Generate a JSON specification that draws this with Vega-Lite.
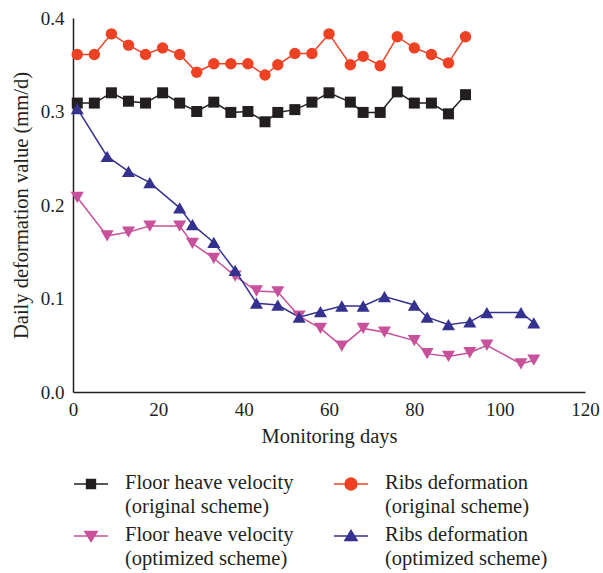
{
  "$schema": "https://vega.github.io/schema/vega-lite/v6.json",
  "width": 512,
  "height": 374,
  "autosize": "none",
  "padding": {"left": 73, "top": 18, "right": 18, "bottom": 181},
  "config": {
    "view": {"stroke": null},
    "font": "Liberation Serif",
    "axis": {
      "grid": false,
      "ticks": false,
      "domainColor": "#231f20",
      "domainWidth": 1.5,
      "labelColor": "#231f20",
      "titleColor": "#231f20",
      "labelFont": "Liberation Serif",
      "titleFont": "Liberation Serif",
      "labelFontSize": 19,
      "titleFontSize": 20.5,
      "titleFontWeight": "normal"
    },
    "legend": {"padding": 0}
  },
  "data": {
    "values": [
      {"series": "Floor heave velocity (original scheme)", "day": 1, "value": 0.309},
      {"series": "Floor heave velocity (original scheme)", "day": 5, "value": 0.309},
      {"series": "Floor heave velocity (original scheme)", "day": 9, "value": 0.320},
      {"series": "Floor heave velocity (original scheme)", "day": 13, "value": 0.311},
      {"series": "Floor heave velocity (original scheme)", "day": 17, "value": 0.309},
      {"series": "Floor heave velocity (original scheme)", "day": 21, "value": 0.320},
      {"series": "Floor heave velocity (original scheme)", "day": 25, "value": 0.309},
      {"series": "Floor heave velocity (original scheme)", "day": 29, "value": 0.300},
      {"series": "Floor heave velocity (original scheme)", "day": 33, "value": 0.310},
      {"series": "Floor heave velocity (original scheme)", "day": 37, "value": 0.299},
      {"series": "Floor heave velocity (original scheme)", "day": 41, "value": 0.300},
      {"series": "Floor heave velocity (original scheme)", "day": 45, "value": 0.289},
      {"series": "Floor heave velocity (original scheme)", "day": 48, "value": 0.299},
      {"series": "Floor heave velocity (original scheme)", "day": 52, "value": 0.302},
      {"series": "Floor heave velocity (original scheme)", "day": 56, "value": 0.310},
      {"series": "Floor heave velocity (original scheme)", "day": 60, "value": 0.320},
      {"series": "Floor heave velocity (original scheme)", "day": 65, "value": 0.310},
      {"series": "Floor heave velocity (original scheme)", "day": 68, "value": 0.299},
      {"series": "Floor heave velocity (original scheme)", "day": 72, "value": 0.299},
      {"series": "Floor heave velocity (original scheme)", "day": 76, "value": 0.321},
      {"series": "Floor heave velocity (original scheme)", "day": 80, "value": 0.309},
      {"series": "Floor heave velocity (original scheme)", "day": 84, "value": 0.309},
      {"series": "Floor heave velocity (original scheme)", "day": 88, "value": 0.2975},
      {"series": "Floor heave velocity (original scheme)", "day": 92, "value": 0.318},
      {"series": "Ribs deformation (original scheme)", "day": 1, "value": 0.361},
      {"series": "Ribs deformation (original scheme)", "day": 5, "value": 0.361},
      {"series": "Ribs deformation (original scheme)", "day": 9, "value": 0.383},
      {"series": "Ribs deformation (original scheme)", "day": 13, "value": 0.371},
      {"series": "Ribs deformation (original scheme)", "day": 17, "value": 0.361},
      {"series": "Ribs deformation (original scheme)", "day": 21, "value": 0.368},
      {"series": "Ribs deformation (original scheme)", "day": 25, "value": 0.361},
      {"series": "Ribs deformation (original scheme)", "day": 29, "value": 0.342},
      {"series": "Ribs deformation (original scheme)", "day": 33, "value": 0.351},
      {"series": "Ribs deformation (original scheme)", "day": 37, "value": 0.351},
      {"series": "Ribs deformation (original scheme)", "day": 41, "value": 0.351},
      {"series": "Ribs deformation (original scheme)", "day": 45, "value": 0.339},
      {"series": "Ribs deformation (original scheme)", "day": 48, "value": 0.350},
      {"series": "Ribs deformation (original scheme)", "day": 52, "value": 0.362},
      {"series": "Ribs deformation (original scheme)", "day": 56, "value": 0.362},
      {"series": "Ribs deformation (original scheme)", "day": 60, "value": 0.383},
      {"series": "Ribs deformation (original scheme)", "day": 65, "value": 0.350},
      {"series": "Ribs deformation (original scheme)", "day": 68, "value": 0.359},
      {"series": "Ribs deformation (original scheme)", "day": 72, "value": 0.349},
      {"series": "Ribs deformation (original scheme)", "day": 76, "value": 0.380},
      {"series": "Ribs deformation (original scheme)", "day": 80, "value": 0.368},
      {"series": "Ribs deformation (original scheme)", "day": 84, "value": 0.361},
      {"series": "Ribs deformation (original scheme)", "day": 88, "value": 0.352},
      {"series": "Ribs deformation (original scheme)", "day": 92, "value": 0.380},
      {"series": "Floor heave velocity (optimized scheme)", "day": 1, "value": 0.208},
      {"series": "Floor heave velocity (optimized scheme)", "day": 8, "value": 0.167},
      {"series": "Floor heave velocity (optimized scheme)", "day": 13, "value": 0.171},
      {"series": "Floor heave velocity (optimized scheme)", "day": 18, "value": 0.1775},
      {"series": "Floor heave velocity (optimized scheme)", "day": 25, "value": 0.1775},
      {"series": "Floor heave velocity (optimized scheme)", "day": 28, "value": 0.159},
      {"series": "Floor heave velocity (optimized scheme)", "day": 33, "value": 0.143},
      {"series": "Floor heave velocity (optimized scheme)", "day": 38, "value": 0.124},
      {"series": "Floor heave velocity (optimized scheme)", "day": 43, "value": 0.108},
      {"series": "Floor heave velocity (optimized scheme)", "day": 48, "value": 0.107},
      {"series": "Floor heave velocity (optimized scheme)", "day": 53, "value": 0.081},
      {"series": "Floor heave velocity (optimized scheme)", "day": 58, "value": 0.068},
      {"series": "Floor heave velocity (optimized scheme)", "day": 63, "value": 0.049},
      {"series": "Floor heave velocity (optimized scheme)", "day": 68, "value": 0.068},
      {"series": "Floor heave velocity (optimized scheme)", "day": 73, "value": 0.064},
      {"series": "Floor heave velocity (optimized scheme)", "day": 80, "value": 0.055},
      {"series": "Floor heave velocity (optimized scheme)", "day": 83, "value": 0.041},
      {"series": "Floor heave velocity (optimized scheme)", "day": 88, "value": 0.038},
      {"series": "Floor heave velocity (optimized scheme)", "day": 93, "value": 0.042},
      {"series": "Floor heave velocity (optimized scheme)", "day": 97, "value": 0.050},
      {"series": "Floor heave velocity (optimized scheme)", "day": 105, "value": 0.030},
      {"series": "Floor heave velocity (optimized scheme)", "day": 108, "value": 0.034},
      {"series": "Ribs deformation (optimized scheme)", "day": 1, "value": 0.303},
      {"series": "Ribs deformation (optimized scheme)", "day": 8, "value": 0.252},
      {"series": "Ribs deformation (optimized scheme)", "day": 13, "value": 0.236},
      {"series": "Ribs deformation (optimized scheme)", "day": 18, "value": 0.224},
      {"series": "Ribs deformation (optimized scheme)", "day": 25, "value": 0.197},
      {"series": "Ribs deformation (optimized scheme)", "day": 28, "value": 0.179},
      {"series": "Ribs deformation (optimized scheme)", "day": 33, "value": 0.160},
      {"series": "Ribs deformation (optimized scheme)", "day": 38, "value": 0.130},
      {"series": "Ribs deformation (optimized scheme)", "day": 43, "value": 0.095},
      {"series": "Ribs deformation (optimized scheme)", "day": 48, "value": 0.093},
      {"series": "Ribs deformation (optimized scheme)", "day": 53, "value": 0.080},
      {"series": "Ribs deformation (optimized scheme)", "day": 58, "value": 0.086},
      {"series": "Ribs deformation (optimized scheme)", "day": 63, "value": 0.092},
      {"series": "Ribs deformation (optimized scheme)", "day": 68, "value": 0.092},
      {"series": "Ribs deformation (optimized scheme)", "day": 73, "value": 0.102},
      {"series": "Ribs deformation (optimized scheme)", "day": 80, "value": 0.093},
      {"series": "Ribs deformation (optimized scheme)", "day": 83, "value": 0.080},
      {"series": "Ribs deformation (optimized scheme)", "day": 88, "value": 0.072},
      {"series": "Ribs deformation (optimized scheme)", "day": 93, "value": 0.075},
      {"series": "Ribs deformation (optimized scheme)", "day": 97, "value": 0.085},
      {"series": "Ribs deformation (optimized scheme)", "day": 105, "value": 0.085},
      {"series": "Ribs deformation (optimized scheme)", "day": 108, "value": 0.074}
    ]
  },
  "encoding": {
    "x": {
      "field": "day", "type": "quantitative",
      "scale": {"domain": [0, 120], "nice": false},
      "axis": {"values": [0, 20, 40, 60, 80, 100, 120], "labelPadding": 8, "title": "Monitoring days", "titlePadding": 7, "labelFlush": false}
    },
    "y": {
      "field": "value", "type": "quantitative",
      "scale": {"domain": [0, 0.4], "nice": false},
      "axis": {"values": [0, 0.1, 0.2, 0.3, 0.4], "format": ".1f", "labelPadding": 9, "title": "Daily deformation value (mm/d)", "titlePadding": 9, "labelFlush": false}
    },
    "color": {
      "field": "series", "type": "nominal",
      "scale": {
        "domain": ["Floor heave velocity (original scheme)", "Ribs deformation (original scheme)", "Floor heave velocity (optimized scheme)", "Ribs deformation (optimized scheme)"],
        "range": ["#231f20", "#ef4123", "#c8519b", "#35318f"]
      },
      "legend": {
        "orient": "none",
        "legendX": 0,
        "legendY": 448,
        "columns": 2,
        "direction": "horizontal",
        "title": null,
        "symbolSize": 1156,
        "symbolStrokeWidth": 1.5,
        "labelFont": "Liberation Serif",
        "labelFontSize": 20.5,
        "labelColor": "#231f20",
        "labelOffset": 16,
        "labelBaseline": "top",
        "labelLimit": 400,
        "columnPadding": 37,
        "rowPadding": 1,
        "labelExpr": "[slice(datum.label, 0, indexof(datum.label, ' (')), slice(datum.label, indexof(datum.label, ' (') + 1)]",
        "encode": {
          "labels": {
            "update": {
              "lineHeight": {"value": 23.5},
              "dy": {"value": -11}
            }
          },
          "symbols": {
            "update": {
              "shape": {"signal": "indexof(datum.value, 'Floor') === 0 && indexof(datum.value, 'original') > 0 ? 'M-1,0H1M-0.26,-0.26H0.26V0.26H-0.26Z' : indexof(datum.value, 'Ribs') === 0 && indexof(datum.value, 'original') > 0 ? 'M-1,0H1M-0.35,0A0.35,0.35 0 1,0 0.35,0A0.35,0.35 0 1,0 -0.35,0Z' : indexof(datum.value, 'Floor') === 0 ? 'M-1,0H1M-0.36,-0.27L0.36,-0.27L0,0.33Z' : 'M-1,0H1M-0.36,0.27L0.36,0.27L0,-0.33Z'"},
              "fill": {"scale": "color", "field": "value"},
              "stroke": {"scale": "color", "field": "value"},
              "strokeWidth": {"value": 1.5},
              "opacity": {"value": 1}
            }
          }
        }
      }
    }
  },
  "layer": [
    {
      "mark": {"type": "line", "strokeWidth": 1.5}
    },
    {
      "transform": [{"filter": "datum.series === 'Floor heave velocity (original scheme)'"}],
      "mark": {"type": "point", "filled": true, "opacity": 1, "size": 121, "shape": "square"}
    },
    {
      "transform": [{"filter": "datum.series === 'Ribs deformation (original scheme)'"}],
      "mark": {"type": "point", "filled": true, "opacity": 1, "size": 130, "shape": "circle"}
    },
    {
      "transform": [{"filter": "datum.series === 'Floor heave velocity (optimized scheme)'"}],
      "mark": {"type": "point", "filled": true, "opacity": 1, "size": 170, "shape": "triangle-down"}
    },
    {
      "transform": [{"filter": "datum.series === 'Ribs deformation (optimized scheme)'"}],
      "mark": {"type": "point", "filled": true, "opacity": 1, "size": 170, "shape": "triangle-up"}
    }
  ]
}
